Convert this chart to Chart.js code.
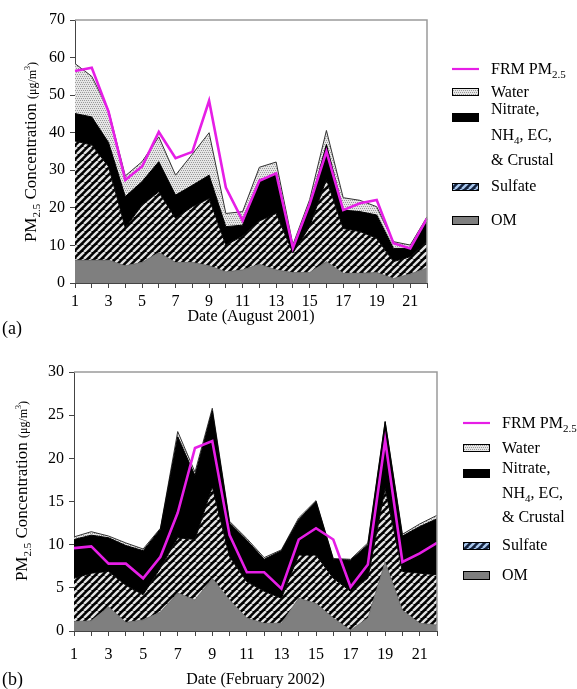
<!DOCTYPE html>
<html>
<head>
<meta charset="utf-8">
<script src="https://cdn.jsdelivr.net/npm/chart.js@4.4.1/dist/chart.umd.min.js"></script>
<style>
    body { margin: 0; background: #fff; width: 577px; height: 689px; position: relative; overflow: hidden; }
    canvas { position: absolute; left: 0; }
    #chartA { top: 0; }
    #chartB { top: 345px; }
</style>
</head>
<body>
<canvas id="chartA" width="577" height="340"></canvas>
<canvas id="chartB" width="577" height="344"></canvas>
<script>
// Días (eje X, ambos paneles)
const days = ["1", "2", "3", "4", "5", "6", "7", "8", "9", "10", "11",
              "12", "13", "14", "15", "16", "17", "18", "19", "20", "21", "22"];

// (a) Agosto 2001 - componentes apilados (µg/m3)
const augOM      = [6.1, 6.1, 6.1, 4.6, 5.5, 8.1, 5.5, 5.5, 4.6, 3.0, 3.5, 5.0, 3.5, 2.8, 2.8, 5.7, 2.6, 2.6, 2.8, 1.2, 2.4, 4.0];
const augSulfate = [31.7, 30.6, 24.9, 10.1, 15.2, 16.2, 11.7, 14.8, 17.9, 7.1, 9.0, 11.5, 15.0, 5.2, 12.2, 21.9, 11.9, 11.1, 9.1, 4.5, 4.6, 7.0];
const augNitrate = [7.3, 7.5, 6.4, 8.3, 6.3, 8.0, 6.2, 5.7, 6.2, 4.9, 2.9, 11.0, 10.2, 1.8, 5.5, 9.3, 4.9, 5.3, 6.2, 3.5, 2.2, 5.3];
const augWater   = [13.3, 10.8, 8.6, 5.5, 5.3, 6.6, 5.3, 8.3, 11.3, 3.5, 3.6, 3.3, 3.5, 0.4, 1.7, 3.7, 3.3, 3.0, 2.2, 1.8, 0.9, 1.3];
const augFRM     = [56.4, 57.3, 45.6, 27.4, 31.0, 40.2, 33.2, 34.9, 48.5, 25.4, 16.6, 27.2, 29.2, 9.3, 21.0, 35.0, 19.4, 21.2, 22.1, 10.6, 9.2, 17.2];

// (b) Febrero 2002
const febOM      = [1.1, 1.2, 2.8, 1.0, 1.3, 2.2, 4.4, 3.6, 6.1, 3.6, 1.5, 0.9, 0.9, 3.8, 3.2, 1.5, 0.1, 1.5, 8.0, 2.4, 0.9, 0.7];
const febSulfate = [5.0, 5.5, 4.1, 4.3, 2.9, 5.1, 6.4, 7.0, 10.6, 5.0, 4.2, 3.7, 2.9, 5.0, 5.6, 4.6, 4.5, 4.6, 8.5, 4.5, 5.8, 5.8];
const febNitrate = [4.5, 4.4, 3.9, 4.6, 5.1, 4.5, 11.7, 7.4, 8.8, 3.9, 4.8, 3.7, 5.5, 4.1, 6.2, 2.2, 3.6, 3.9, 7.7, 4.1, 5.4, 6.5];
const febWater   = [0.3, 0.4, 0.2, 0.3, 0.2, 0.1, 0.6, 0.4, 0.3, 0.2, 0.2, 0.2, 0.1, 0.2, 0.1, 0.1, 0.1, 0.2, 0.1, 0.2, 0.3, 0.4];
const febFRM     = [9.6, 9.8, 7.8, 7.8, 6.1, 8.6, 13.7, 21.2, 22.0, 11.1, 6.8, 6.8, 4.9, 10.6, 11.9, 10.6, 5.1, 7.7, 22.1, 8.0, 9.0, 10.2];

const SERIF = '"Liberation Serif", "Times New Roman", serif';
const MAGENTA = "#e61ee6";

// Patrones de relleno
function makeHatch(bg, fg) {
    const c = document.createElement("canvas");
    c.width = 7; c.height = 7;
    const g = c.getContext("2d");
    g.fillStyle = bg;
    g.fillRect(0, 0, 7, 7);
    g.strokeStyle = fg;
    g.lineWidth = 2.4;
    [-7, 0, 7].forEach((o) => {
        g.beginPath();
        g.moveTo(o, 7);
        g.lineTo(o + 7, 0);
        g.stroke();
    });
    return g.createPattern(c, "repeat");
}

function makeDots() {
    const c = document.createElement("canvas");
    c.width = 4; c.height = 4;
    const g = c.getContext("2d");
    g.fillStyle = "#e6e6e6";
    g.fillRect(0, 0, 4, 4);
    g.fillStyle = "#9a9a9a";
    [[0, 0], [2, 2], [2, 0], [0, 2]].forEach(([x, y]) => g.fillRect(x + (y % 4 === 2 ? 1 : 0), y, 1, 1));
    return g.createPattern(c, "repeat");
}

const hatchPattern = makeHatch("#000", "#e2e2e2");
const legendHatch = makeHatch("#14233f", "#a9c8ee");
const dotPattern = makeDots();

// Texto con subíndices / superíndices
function drawRich(ctx, x, y, segs, align) {
    let total = 0;
    segs.forEach((s) => {
        ctx.font = s.size + "px " + SERIF;
        total += ctx.measureText(s.t).width;
    });
    let cx = align === "center" ? x - total / 2 : x;
    ctx.textAlign = "left";
    ctx.textBaseline = "alphabetic";
    segs.forEach((s) => {
        ctx.font = s.size + "px " + SERIF;
        ctx.fillText(s.t, cx, y + (s.dy || 0));
        cx += ctx.measureText(s.t).width;
    });
}

const yTitle = [
    { t: "PM", size: 17 },
    { t: "2.5", size: 11, dy: 4 },
    { t: " Concentration ", size: 17 },
    { t: "(\u03bcg/m", size: 12 },
    { t: "3", size: 8, dy: -6 },
    { t: ")", size: 12 }
];

// Plugin para marco, títulos y leyenda
const decorPlugin = {
    id: "decor",
    afterDraw(chart, args, opts) {
        const ctx = chart.ctx;
        const a = chart.chartArea;
        ctx.save();

        // marco gris arriba / derecha
        ctx.strokeStyle = "#9a9a9a";
        ctx.lineWidth = 1.5;
        ctx.beginPath();
        ctx.moveTo(a.left, a.top);
        ctx.lineTo(a.right, a.top);
        ctx.lineTo(a.right, a.bottom);
        ctx.stroke();

        ctx.fillStyle = "#000";

        // título eje Y rotado
        ctx.save();
        ctx.translate(opts.yTitleX, opts.yTitleY);
        ctx.rotate(-Math.PI / 2);
        drawRich(ctx, 0, 6, yTitle, "center");
        ctx.restore();

        // título eje X
        ctx.font = "16px " + SERIF;
        ctx.textAlign = "center";
        ctx.textBaseline = "middle";
        ctx.fillText(opts.xTitle, (a.left + a.right) / 2, opts.xTitleY);

        // etiqueta del panel
        ctx.font = "18px " + SERIF;
        ctx.textAlign = "left";
        ctx.fillText(opts.panel, 2, opts.panelY);

        // leyenda
        const L = opts.legend;
        const sx = L.x, sw = 27, tx = L.tx;
        ctx.strokeStyle = MAGENTA;
        ctx.lineWidth = 2.2;
        ctx.beginPath();
        ctx.moveTo(sx, L.frm);
        ctx.lineTo(sx + sw, L.frm);
        ctx.stroke();
        ctx.fillStyle = "#000";
        drawRich(ctx, tx, L.frm + 5, [{ t: "FRM PM", size: 16 }, { t: "2.5", size: 11, dy: 4 }]);

        const box = (y, h, fill) => {
            ctx.fillStyle = fill;
            ctx.fillRect(sx, y, sw, h);
            ctx.strokeStyle = "#000";
            ctx.lineWidth = 1;
            ctx.strokeRect(sx + 0.5, y + 0.5, sw - 1, h - 1);
            ctx.fillStyle = "#000";
        };
        box(L.water, 8, dotPattern);
        drawRich(ctx, tx, L.water + 9, [{ t: "Water", size: 16 }]);
        box(L.nitrate, 9, "#000");
        drawRich(ctx, tx, L.nitText[0] + 5, [{ t: "Nitrate,", size: 16 }]);
        drawRich(ctx, tx, L.nitText[1] + 5, [{ t: "NH", size: 16 }, { t: "4", size: 11, dy: 4 }, { t: ", EC,", size: 16 }]);
        drawRich(ctx, tx, L.nitText[2] + 5, [{ t: "& Crustal", size: 16 }]);
        box(L.sulfate, 8, legendHatch);
        drawRich(ctx, tx, L.sulfate + 8, [{ t: "Sulfate", size: 16 }]);
        box(L.om, 9, "#7f7f7f");
        drawRich(ctx, tx, L.om + 9, [{ t: "OM", size: 16 }]);

        ctx.restore();
    }
};

function buildChart(id, series, L) {
    const ctx = document.getElementById(id).getContext("2d");
    return new Chart(ctx, {
        type: "line",
        data: {
            labels: days,
            datasets: [
                { label: "FRM PM2.5", data: series.frm, stack: "frm", borderColor: MAGENTA, borderWidth: 2.6, fill: false },
                { label: "OM", data: series.om, stack: "comp", backgroundColor: "#7f7f7f", borderColor: "#555", borderWidth: 0.6, fill: "origin" },
                { label: "Sulfate", data: series.sulfate, stack: "comp", backgroundColor: hatchPattern, borderColor: "#000", borderWidth: 1, fill: "-1" },
                { label: "Nitrate, NH4, EC, & Crustal", data: series.nitrate, stack: "comp", backgroundColor: "#000", borderColor: "#000", borderWidth: 1, fill: "-1" },
                { label: "Water", data: series.water, stack: "comp", backgroundColor: dotPattern, borderColor: "#333", borderWidth: 1, fill: "-1" }
            ]
        },
        options: {
            responsive: false,
            animation: false,
            layout: { padding: { top: L.top, right: L.right, left: 0, bottom: 0 } },
            elements: { point: { radius: 0 }, line: { tension: 0 } },
            plugins: {
                legend: { display: false },
                tooltip: { enabled: false },
                decor: L.decor
            },
            scales: {
                x: {
                    offset: false,
                    grid: { drawOnChartArea: false, drawTicks: true, tickLength: 5, tickColor: "#444" },
                    border: { color: "#444", width: 1 },
                    ticks: {
                        autoSkip: false,
                        maxRotation: 0,
                        padding: L.xPad,
                        color: "#000",
                        font: { family: SERIF, size: 16 },
                        callback: function (v, i) { return i % 2 === 0 ? this.getLabelForValue(v) : ""; }
                    },
                    afterFit: (s) => { s.height = L.xH; }
                },
                y: {
                    stacked: true,
                    min: 0,
                    max: L.max,
                    grid: { drawOnChartArea: false, drawTicks: true, tickLength: 5, tickColor: "#444" },
                    border: { color: "#444", width: 1 },
                    ticks: { stepSize: L.step, padding: 5, color: "#000", font: { family: SERIF, size: 16 } },
                    afterFit: (s) => { s.width = L.yW; }
                }
            }
        },
        plugins: [decorPlugin]
    });
}

document.addEventListener("DOMContentLoaded", () => {
    buildChart("chartA",
        { om: augOM, sulfate: augSulfate, nitrate: augNitrate, water: augWater, frm: augFRM },
        {
            top: 20, right: 150, xH: 57, yW: 75, xPad: 4, max: 70, step: 10,
            decor: {
                yTitleX: 30, yTitleY: 152, xTitle: "Date (August 2001)", xTitleY: 317,
                panel: "(a)", panelY: 329,
                legend: { x: 452, tx: 491, frm: 69, water: 88, nitrate: 113, nitText: [109, 135, 160], sulfate: 183, om: 216 }
            }
        });
    buildChart("chartB",
        { om: febOM, sulfate: febSulfate, nitrate: febNitrate, water: febWater, frm: febFRM },
        {
            top: 27, right: 140, xH: 58, yW: 74, xPad: 9, max: 30, step: 5,
            decor: {
                yTitleX: 21, yTitleY: 146, xTitle: "Date (February 2002)", xTitleY: 335,
                panel: "(b)", panelY: 335,
                legend: { x: 463, tx: 502, frm: 78, water: 99, nitrate: 124, nitText: [123, 148, 172], sulfate: 197, om: 226 }
            }
        });
});
</script>
</body>
</html>
